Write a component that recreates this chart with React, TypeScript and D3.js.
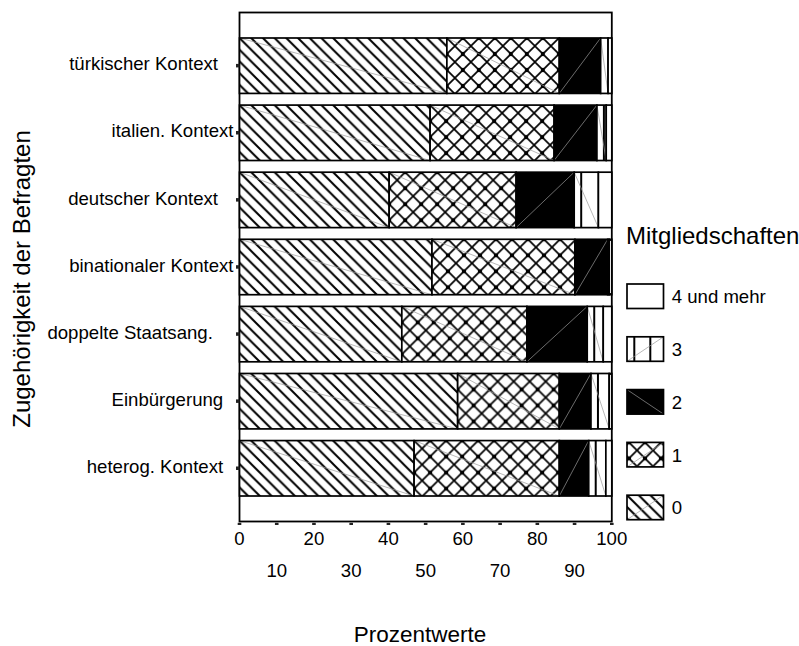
import React from "react";
import * as d3 from "d3";

// ---- data ----
const categories = [
  "türkischer Kontext",
  "italien. Kontext",
  "deutscher Kontext",
  "binationaler Kontext",
  "doppelte Staatsang.",
  "Einbürgerung",
  "heterog. Kontext",
];
const categoryLabels = [
  "türkischer Kontext   ",
  "italien. Kontext",
  "deutscher Kontext   ",
  "binationaler Kontext",
  "doppelte Staatsang.    ",
  "Einbürgerung  ",
  "heterog. Kontext  ",
];
const keys = ["0", "1", "2", "3", "4 und mehr"];
const v0 = [55.7, 51.2, 40.2, 51.7, 43.6, 58.6, 46.9];
const v1 = [30.2, 33.3, 34.1, 38.4, 33.6, 27.3, 39.0];
const v2 = [11.1, 11.5, 15.6, 8.8, 16.2, 8.5, 7.9];
const v3 = [2.0, 2.5, 6.5, 0.4, 4.3, 4.9, 4.6];
const v4 = [1.0, 1.5, 3.6, 0.7, 2.3, 0.7, 1.6];
const legendTitle = "Mitgliedschaften";
const yTitle = "Zugehörigkeit der Befragten";
const xTitle = "Prozentwerte";

const FONT = "'Liberation Sans', Arial, Helvetica, sans-serif";

export default function App() {
  const W = 799;
  const H = 646;
  const x = d3.scaleLinear().domain([0, 100]).range([239.5, 611.8]);
  const y = d3
    .scaleBand<string>()
    .domain(categories)
    .range([12.5, 521.5])
    .paddingInner(0.174)
    .paddingOuter(0.38);

  const rows = categories.map((c, i) => ({
    cat: c,
    "0": v0[i],
    "1": v1[i],
    "2": v2[i],
    "3": v3[i],
    "4 und mehr": v4[i],
  }));
  const stacked = d3.stack<any>().keys(keys)(rows);
  const bw = y.bandwidth();
  const ticks = x.ticks(10);

  const P0 = 11.7;
  const P1 = 16;

  const fillFor = (k: number, i: number) => {
    if (k === 0) return `url(#p0-${i})`;
    if (k === 1) return `url(#p1-${i})`;
    if (k === 2) return "#000";
    return "#fff";
  };

  const legendItems = [4, 3, 2, 1, 0];
  const legendX = 627;
  const legendY0 = 284;
  const legendStep = 52.8;
  const boxW = 36.5;
  const boxH = 24.5;

  const pat0 = (id: string, px: number, py: number) => (
    <pattern id={id} key={id} patternUnits="userSpaceOnUse" x={px} y={py} width={P0} height={P0}>
      <rect width={P0} height={P0} fill="#fff" />
      <path
        d={`M-2,-2L${P0 + 2},${P0 + 2}M${P0 - 2},-2L${P0 + 2},2M-2,${P0 - 2}L2,${P0 + 2}`}
        stroke="#000"
        strokeWidth={2}
      />
    </pattern>
  );
  const pat1 = (id: string, px: number, py: number) => (
    <pattern id={id} key={id} patternUnits="userSpaceOnUse" x={px} y={py} width={P1} height={P1}>
      <rect width={P1} height={P1} fill="#fff" />
      <path
        d={`M-2,-2L${P1 + 2},${P1 + 2}M${P1 + 2},-2L-2,${P1 + 2}`}
        stroke="#000"
        strokeWidth={1.7}
      />
      {[
        [0, 0],
        [P1, 0],
        [0, P1],
        [P1, P1],
      ].map(([cx, cy], j) => (
        <circle key={j} cx={cx} cy={cy} r={2.2} fill="#000" />
      ))}
    </pattern>
  );

  return (
    <svg
      width={W}
      height={H}
      style={{ position: "absolute", left: 0, top: 0, background: "#fff" }}
      fontFamily={FONT}
    >
      <defs>
        {categories.map((c, i) => {
          const top = y(c)!;
          return (
            <React.Fragment key={c}>
              {pat0(`p0-${i}`, x(0), top)}
              {pat1(`p1-${i}`, x(stacked[1][i][0]), top)}
            </React.Fragment>
          );
        })}
        {pat0("lp0", legendX, legendY0 + 4 * legendStep)}
        {pat1("lp1", legendX + 2, legendY0 + 3 * legendStep)}
      </defs>
      <rect width={W} height={H} fill="#fff" />

      {/* plot frame */}
      <rect x={239.5} y={12.5} width={372.3} height={509} fill="#fff" stroke="#000" strokeWidth={1.8} />

      {/* bars */}
      {stacked.map((series, k) =>
        series.map((d, i) => {
          const c = categories[i];
          const x0 = x(d[0]);
          const x1 = x(d[1]);
          const top = y(c)!;
          const w = x1 - x0;
          const lines: number[] = [];
          if (k === 3) {
            for (let lx = x0 + 7; lx < x1 - 1.5; lx += 16) lines.push(lx);
          }
          return (
            <g key={`${k}-${i}`}>
              <rect x={x0} y={top} width={w} height={bw} fill={fillFor(k, i)} />
              {lines.map((lx, j) => (
                <line key={j} x1={lx} x2={lx} y1={top} y2={top + bw} stroke="#000" strokeWidth={2} />
              ))}
              {k < 4 && w > 2 && (
                <line
                  x1={x0}
                  x2={x1}
                  y1={k === 2 ? top + bw : top}
                  y2={k === 2 ? top : top + bw}
                  stroke="#9a9a9a"
                  strokeWidth={0.7}
                />
              )}
              <rect x={x0} y={top} width={w} height={bw} fill="none" stroke="#000" strokeWidth={1.7} />
            </g>
          );
        })
      )}

      {/* y tick squares + labels */}
      {categories.map((c, i) => {
        const cy = y(c)! + bw / 2;
        return (
          <g key={c}>
            <rect x={236} y={cy - 1.8} width={3.5} height={3.5} fill="#222" />
            <text
              x={233.5}
              y={cy + 4.6}
              textAnchor="end"
              fontSize={18.6}
              style={{ whiteSpace: "pre" }}
              fill="#000"
            >
              {categoryLabels[i]}
            </text>
          </g>
        );
      })}

      {/* x ticks */}
      {ticks.map((t, j) => (
        <g key={t}>
          <rect x={x(t) - 1.8} y={522.8} width={3.6} height={2.2} fill="#222" />
          <text
            x={x(t)}
            y={j % 2 === 0 ? 545 : 577}
            textAnchor="middle"
            fontSize={18.6}
            fill="#000"
          >
            {t}
          </text>
        </g>
      ))}

      {/* axis titles */}
      <text
        transform={`translate(30,279) rotate(-90)`}
        textAnchor="middle"
        fontSize={24}
        fill="#000"
      >
        {yTitle}
      </text>
      <text x={420} y={642} textAnchor="middle" fontSize={22.5} fill="#000">
        {xTitle}
      </text>

      {/* legend */}
      <text x={626} y={243.5} fontSize={24} fill="#000">
        {legendTitle}
      </text>
      {legendItems.map((k, j) => {
        const by = legendY0 + j * legendStep;
        const fill = k === 0 ? "url(#lp0)" : k === 1 ? "url(#lp1)" : k === 2 ? "#000" : "#fff";
        return (
          <g key={k}>
            <rect x={legendX} y={by} width={boxW} height={boxH} fill={fill} />
            {k === 3 &&
              [7.3, 23.3].map((o) => (
                <line key={o} x1={legendX + o} x2={legendX + o} y1={by} y2={by + boxH} stroke="#000" strokeWidth={2} />
              ))}
            {k !== 4 && (
              <line
                x1={legendX}
                x2={legendX + boxW}
                y1={k === 2 ? by : by + boxH}
                y2={k === 2 ? by + boxH : by}
                stroke="#9a9a9a"
                strokeWidth={0.7}
              />
            )}
            <rect x={legendX} y={by} width={boxW} height={boxH} fill="none" stroke="#000" strokeWidth={1.7} />
            <text x={671.7} y={by + boxH / 2 + 7} fontSize={18.6} fill="#000">
              {keys[k]}
            </text>
          </g>
        );
      })}
    </svg>
  );
}
